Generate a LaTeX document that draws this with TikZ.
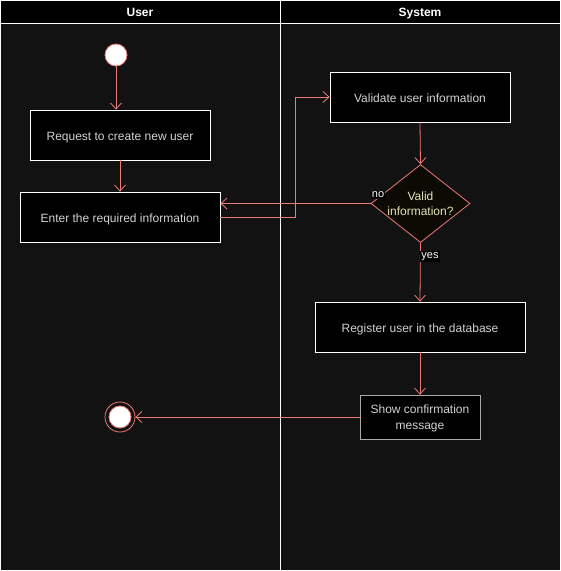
\documentclass[tikz,border=0pt]{standalone}
\usepackage{fontspec}
\setmainfont{Liberation Sans}
\usetikzlibrary{arrows.meta,shapes.geometric}
\definecolor{bg}{RGB}{18,18,18}
\definecolor{edge}{RGB}{236,122,118}
\definecolor{txt}{RGB}{210,210,210}
\definecolor{dtxt}{RGB}{228,228,185}
\definecolor{dfill}{RGB}{12,10,2}
\definecolor{gborder}{RGB}{170,170,170}
\tikzset{
  px/.style={x=1pt,y=-1pt},
  actbox/.style={draw=white,fill=black,text=txt,minimum height=50pt,align=center,font=\fontsize{12}{14.5}\selectfont,inner sep=0pt,line width=0.8pt},
  onebox/.style={actbox,text height=13.4pt,text depth=2.5pt},
  conn/.style={draw=edge,line width=0.8pt,-{Straight Barb[length=6pt,width=11pt,line width=0.8pt]}},
  lbl/.style={fill=black,text=white,font=\fontsize{11}{12}\selectfont,inner sep=1pt},
  hdr/.style={text=white,font=\bfseries\fontsize{12}{14}\selectfont,anchor=base}
}
\begin{document}
\begin{tikzpicture}[px]
\fill[bg] (0,0) rectangle (561,571);
\useasboundingbox (0,0) rectangle (561,571);
% header
\fill[black] (0,0) rectangle (561,23);
\draw[white,line width=0.8pt] (0.5,0.5) rectangle (560.5,570.5);
\draw[white,line width=0.8pt] (0,23) -- (561,23);
\draw[white,line width=0.8pt] (280.5,0) -- (280.5,571);
\node[hdr] (hu) at (140,16.5) {User};
\node[hdr] (hs) at (420,16.5) {System};
% nodes
\node[circle,draw=edge,fill=white,minimum size=22pt,inner sep=0pt,line width=0.8pt] (start) at (116,55) {};
\node[onebox,minimum width=180pt] (req) at (120,135) {Request to create new user};
\node[onebox,minimum width=200pt] (enter) at (120,217) {Enter the required information};
\node[onebox,minimum width=180pt] (val) at (420,97) {Validate user information};
\node[diamond,draw=edge,fill=dfill,text=dtxt,minimum width=99pt,minimum height=78pt,inner sep=0pt,aspect=1.27,align=center,font=\fontsize{12}{15}\selectfont,line width=0.8pt] (dec) at (420.5,203.5) {Valid\\information?};
\node[onebox,minimum width=210pt] (reg) at (420,327) {Register user in the database};
\node[actbox,draw=gborder,minimum width=120pt,minimum height=44pt,font=\fontsize{12}{16}\selectfont] (show) at (420,417) {\rule{0pt}{11pt}Show confirmation\\message};
\node[circle,draw=edge,minimum size=30pt,inner sep=0pt,line width=0.8pt] (end) at (120,417) {};
\node[circle,draw=edge,fill=white,minimum size=22pt,inner sep=0pt,line width=0.8pt] (endin) at (120,417) {};
% connectors
\draw[conn] (start) -- (req.north -| start);
\draw[conn] (req.south) -- (enter.north);
\coordinate (bend1) at (295,217);
\coordinate (bend2) at (295,97);
\draw[conn] (enter.east) -- (bend1) -- (bend2) -- (val.west);
\draw[conn] (val.south) -- (dec.north);
\draw[conn] (dec.west) -- (dec.west -| enter.east);
\node[lbl] (nol) at (378,195) {no};
\draw[conn] (dec.south) -- (reg.north);
\node[lbl] (yesl) at (430,256.5) {yes};
\draw[conn] (reg.south) -- (show.north);
\draw[conn] (show.west) -- (end.east);
\end{tikzpicture}
\end{document}
